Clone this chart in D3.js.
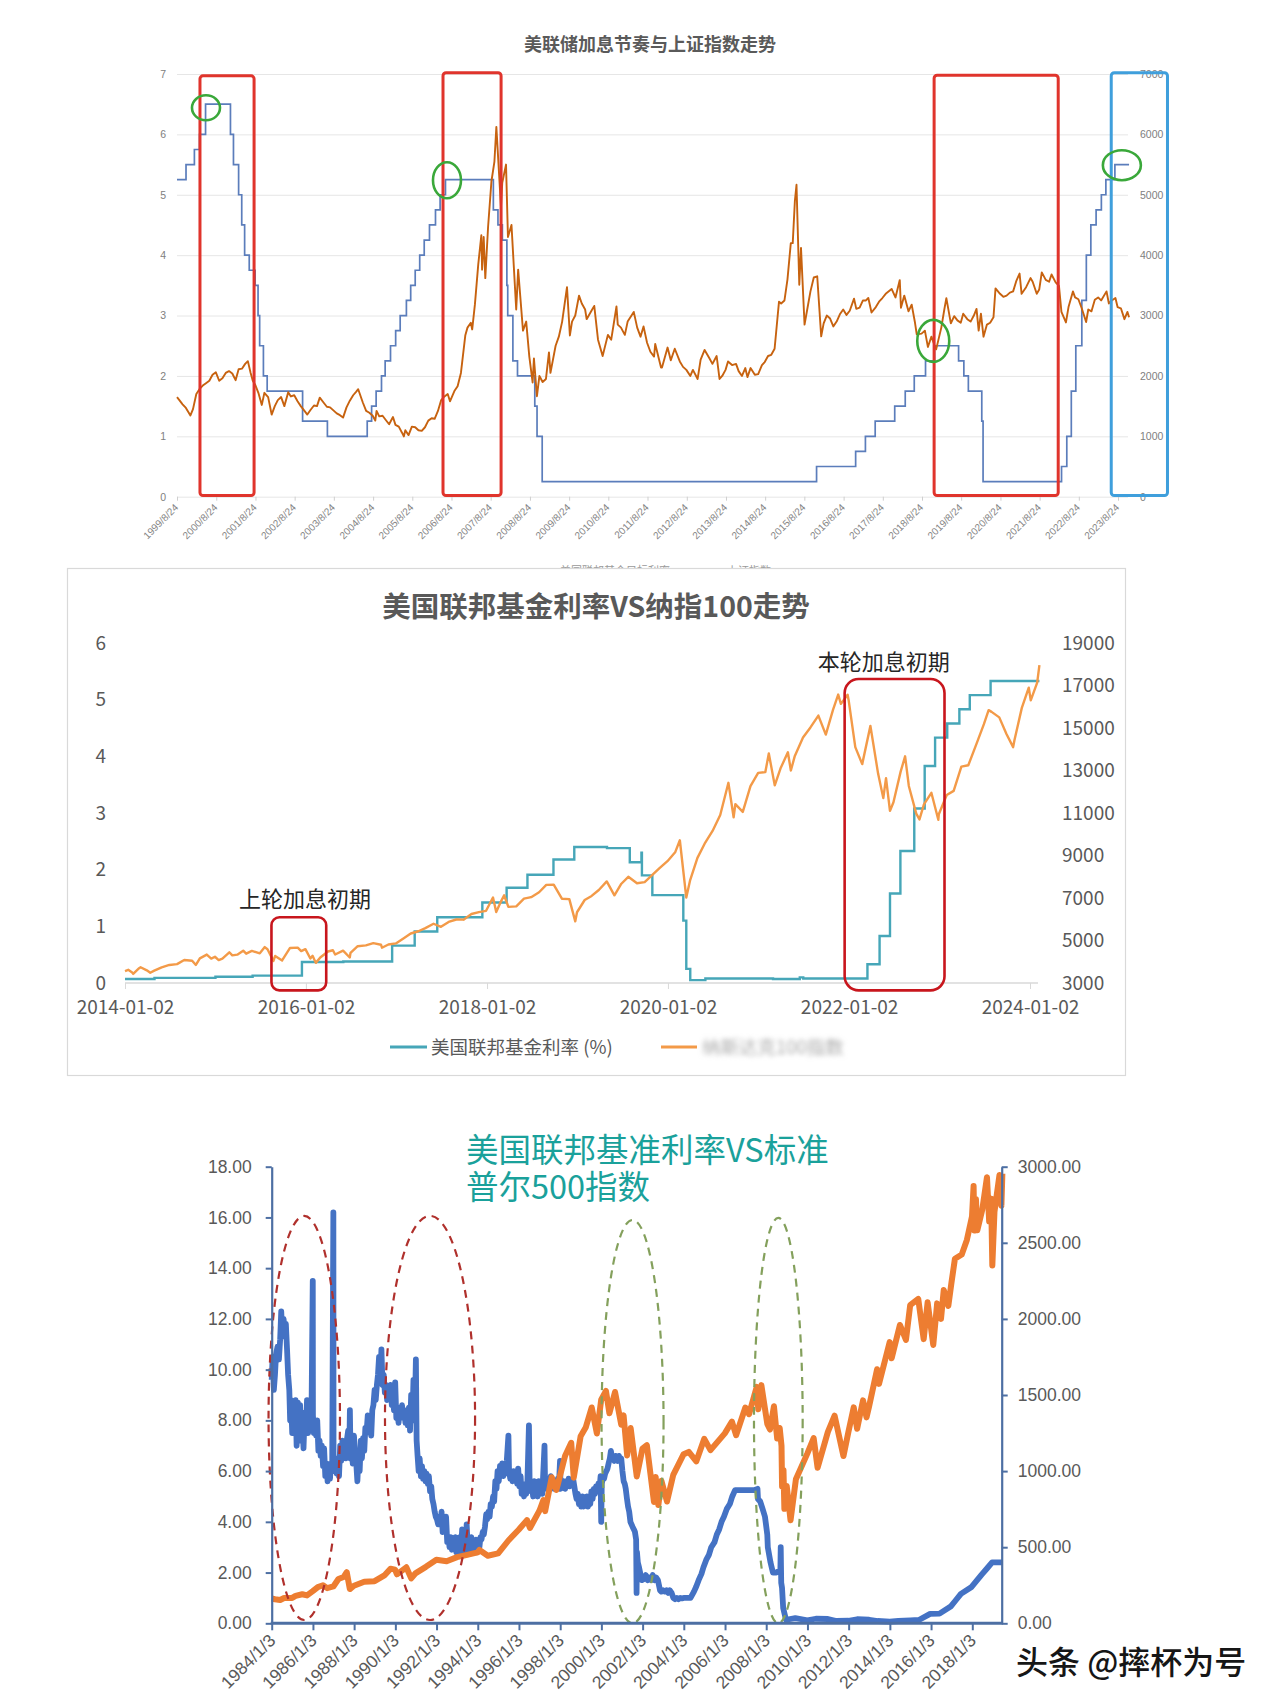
<!DOCTYPE html>
<html><head><meta charset="utf-8">
<script src="https://cdn.jsdelivr.net/npm/d3@7"></script>
<style>body{margin:0;background:#fff}svg{display:block}</style>
</head><body>
<svg id="c" width="1280" height="1706"></svg>
<script>
// ================= DATA =================
// Chart 1: Fed target rate (upper bound, %) and Shanghai Composite
const c1Title = "美联储加息节奏与上证指数走势";
const c1XTicks = ["1999/8/24","2000/8/24","2001/8/24","2002/8/24","2003/8/24","2004/8/24","2005/8/24","2006/8/24","2007/8/24","2008/8/24","2009/8/24","2010/8/24","2011/8/24","2012/8/24","2013/8/24","2014/8/24","2015/8/24","2016/8/24","2017/8/24","2018/8/24","2019/8/24","2020/8/24","2021/8/24","2022/8/24","2023/8/24"];
const c1YLeftTicks = [0,1,2,3,4,5,6,7];
const c1YRightTicks = [0,1000,2000,3000,4000,5000,6000,7000];
const c1Legend = ["美国联邦基金目标利率","上证指数"];
const c1Fed = [["1999-08-24",5.25],["1999-11-16",5.5],["2000-02-02",5.75],["2000-03-21",6.0],["2000-05-16",6.5],["2001-01-03",6.0],["2001-01-31",5.5],["2001-03-20",5.0],["2001-04-18",4.5],["2001-05-15",4.0],["2001-06-27",3.75],["2001-08-21",3.5],["2001-09-17",3.0],["2001-10-02",2.5],["2001-11-06",2.0],["2001-12-11",1.75],["2002-11-06",1.25],["2003-06-25",1.0],["2004-06-30",1.25],["2004-08-10",1.5],["2004-09-21",1.75],["2004-11-10",2.0],["2004-12-14",2.25],["2005-02-02",2.5],["2005-03-22",2.75],["2005-05-03",3.0],["2005-06-30",3.25],["2005-08-09",3.5],["2005-09-20",3.75],["2005-11-01",4.0],["2005-12-13",4.25],["2006-01-31",4.5],["2006-03-28",4.75],["2006-05-10",5.0],["2006-06-29",5.25],["2007-09-18",4.75],["2007-10-31",4.5],["2007-12-11",4.25],["2008-01-22",3.5],["2008-01-30",3.0],["2008-03-18",2.25],["2008-04-30",2.0],["2008-10-08",1.5],["2008-10-29",1.0],["2008-12-16",0.25],["2015-12-16",0.5],["2016-12-14",0.75],["2017-03-15",1.0],["2017-06-14",1.25],["2017-12-13",1.5],["2018-03-21",1.75],["2018-06-13",2.0],["2018-09-26",2.25],["2018-12-19",2.5],["2019-07-31",2.25],["2019-09-18",2.0],["2019-10-30",1.75],["2020-03-03",1.25],["2020-03-15",0.25],["2022-03-16",0.5],["2022-05-04",1.0],["2022-06-15",1.75],["2022-07-27",2.5],["2022-09-21",3.25],["2022-11-02",4.0],["2022-12-14",4.5],["2023-02-01",4.75],["2023-03-22",5.0],["2023-05-03",5.25],["2023-07-26",5.5],["2023-12-05",5.5]];
const c1Sse = [["1999-08-24",1650],["1999-09-15",1600],["1999-10-15",1530],["1999-11-15",1470],["1999-12-27",1345],["2000-01-20",1450],["2000-02-20",1700],["2000-03-20",1780],["2000-04-20",1840],["2000-05-20",1880],["2000-06-20",1920],["2000-07-20",2020],["2000-08-20",2060],["2000-09-20",1920],["2000-10-20",1960],["2000-11-20",2050],["2000-12-20",2080],["2001-01-20",2040],["2001-02-20",1930],["2001-03-20",2110],["2001-04-20",2120],["2001-05-20",2200],["2001-06-14",2245],["2001-07-10",2050],["2001-07-30",1920],["2001-08-20",1860],["2001-09-20",1720],["2001-10-22",1520],["2001-11-15",1720],["2001-12-20",1650],["2002-01-22",1360],["2002-02-20",1500],["2002-03-20",1600],["2002-04-20",1650],["2002-05-20",1500],["2002-06-25",1730],["2002-07-20",1660],["2002-08-20",1680],["2002-09-20",1580],["2002-10-20",1500],["2002-11-20",1430],["2002-12-20",1360],["2003-01-20",1440],["2003-02-20",1510],["2003-03-20",1500],["2003-04-15",1640],["2003-05-20",1560],["2003-06-20",1490],["2003-07-20",1480],["2003-08-20",1430],["2003-09-20",1380],["2003-10-20",1350],["2003-11-18",1310],["2003-12-20",1480],["2004-01-20",1590],["2004-02-20",1680],["2004-03-20",1740],["2004-04-07",1780],["2004-05-20",1560],["2004-06-20",1420],["2004-07-20",1390],["2004-08-20",1340],["2004-09-13",1260],["2004-09-25",1420],["2004-10-20",1330],["2004-11-20",1340],["2004-12-20",1270],["2005-01-20",1200],["2005-02-25",1320],["2005-03-20",1190],["2005-04-20",1160],["2005-05-20",1060],["2005-06-06",998],["2005-06-20",1100],["2005-07-20",1020],["2005-08-20",1160],["2005-09-20",1150],["2005-10-20",1100],["2005-11-20",1090],["2005-12-20",1150],["2006-01-20",1260],["2006-02-20",1300],["2006-03-20",1290],["2006-04-20",1420],["2006-05-20",1600],["2006-06-20",1660],["2006-07-20",1700],["2006-08-10",1580],["2006-09-20",1750],["2006-10-20",1830],["2006-11-20",2050],["2006-12-31",2675],["2007-01-20",2800],["2007-02-20",2880],["2007-03-05",2770],["2007-03-30",3180],["2007-04-30",3840],["2007-05-29",4330],["2007-06-05",3760],["2007-06-20",4300],["2007-07-05",3620],["2007-07-31",4470],["2007-08-31",5220],["2007-09-28",5550],["2007-10-16",6124],["2007-11-28",4800],["2007-12-10",5200],["2008-01-14",5500],["2008-02-01",4300],["2008-03-05",4500],["2008-04-18",3100],["2008-05-06",3760],["2008-06-20",2750],["2008-07-20",2900],["2008-08-18",2320],["2008-09-18",1890],["2008-09-30",2290],["2008-10-28",1664],["2008-11-20",2000],["2008-12-20",1900],["2009-01-20",1950],["2009-02-17",2390],["2009-03-03",2050],["2009-04-20",2500],["2009-05-20",2650],["2009-06-20",2900],["2009-08-04",3470],["2009-08-31",2670],["2009-09-20",2900],["2009-10-20",3000],["2009-11-24",3330],["2009-12-20",3200],["2010-01-20",3100],["2010-02-03",2940],["2010-03-20",3080],["2010-04-15",3160],["2010-05-20",2600],["2010-07-02",2330],["2010-08-20",2680],["2010-09-20",2600],["2010-11-08",3150],["2010-11-20",2850],["2010-12-20",2800],["2011-01-25",2680],["2011-02-20",2900],["2011-04-18",3060],["2011-05-20",2800],["2011-06-20",2650],["2011-07-18",2820],["2011-08-20",2550],["2011-09-20",2400],["2011-10-24",2320],["2011-11-04",2530],["2011-12-28",2140],["2012-01-06",2140],["2012-02-27",2470],["2012-03-28",2260],["2012-05-04",2450],["2012-06-20",2240],["2012-07-20",2150],["2012-08-20",2100],["2012-09-26",2000],["2012-10-20",2100],["2012-12-03",1950],["2012-12-31",2270],["2013-02-06",2430],["2013-03-20",2300],["2013-04-20",2200],["2013-05-29",2330],["2013-06-25",1950],["2013-07-20",2000],["2013-08-20",2100],["2013-09-12",2240],["2013-10-20",2180],["2013-11-26",2200],["2013-12-20",2080],["2014-01-20",2000],["2014-02-20",2130],["2014-03-12",1980],["2014-04-10",2130],["2014-05-20",2020],["2014-06-20",2030],["2014-07-25",2180],["2014-08-20",2230],["2014-09-20",2330],["2014-10-20",2350],["2014-11-20",2450],["2014-12-31",3230],["2015-01-20",3200],["2015-02-20",3250],["2015-03-20",3600],["2015-04-20",4200],["2015-05-08",4200],["2015-05-28",4900],["2015-06-12",5166],["2015-07-08",3510],["2015-07-24",4120],["2015-08-26",2850],["2015-09-20",3100],["2015-10-20",3400],["2015-11-20",3630],["2015-12-22",3650],["2016-01-28",2655],["2016-02-20",2870],["2016-03-20",3000],["2016-04-20",2950],["2016-05-20",2820],["2016-06-20",2900],["2016-07-20",3020],["2016-08-20",3100],["2016-09-20",3010],["2016-10-20",3080],["2016-11-29",3280],["2016-12-20",3110],["2017-01-20",3130],["2017-02-20",3250],["2017-03-20",3250],["2017-04-11",3290],["2017-05-11",3050],["2017-06-20",3140],["2017-07-20",3230],["2017-08-20",3290],["2017-09-20",3360],["2017-11-14",3440],["2017-12-20",3300],["2018-01-29",3587],["2018-02-09",3130],["2018-03-12",3330],["2018-04-20",3070],["2018-05-20",3180],["2018-06-20",2880],["2018-07-06",2690],["2018-08-20",2700],["2018-09-20",2750],["2018-10-18",2480],["2018-11-20",2650],["2018-12-20",2500],["2019-01-03",2440],["2019-02-20",2800],["2019-03-20",3100],["2019-04-08",3288],["2019-05-20",2870],["2019-06-20",2990],["2019-07-20",2920],["2019-08-20",2880],["2019-09-12",3030],["2019-10-20",2940],["2019-11-20",2900],["2019-12-20",3000],["2020-01-14",3110],["2020-02-03",2750],["2020-02-24",3030],["2020-03-19",2650],["2020-04-20",2850],["2020-05-20",2880],["2020-06-20",2970],["2020-07-09",3450],["2020-08-20",3360],["2020-09-20",3310],["2020-10-20",3330],["2020-11-20",3380],["2020-12-20",3400],["2021-01-20",3580],["2021-02-18",3696],["2021-03-09",3360],["2021-04-20",3470],["2021-05-31",3620],["2021-06-20",3560],["2021-07-28",3360],["2021-08-20",3430],["2021-09-13",3715],["2021-10-20",3590],["2021-11-20",3560],["2021-12-13",3680],["2022-01-20",3550],["2022-02-20",3490],["2022-03-15",3060],["2022-04-26",2886],["2022-05-20",3140],["2022-06-30",3400],["2022-07-20",3300],["2022-08-20",3270],["2022-09-20",3120],["2022-10-31",2893],["2022-11-20",3100],["2022-12-20",3070],["2023-01-20",3260],["2023-02-20",3300],["2023-03-20",3250],["2023-05-09",3400],["2023-05-31",3200],["2023-06-20",3240],["2023-07-31",3290],["2023-08-20",3140],["2023-09-20",3120],["2023-10-23",2940],["2023-11-20",3060],["2023-12-05",2970]];
const c1RedBoxes = [["2000-03-25","2001-08-11",0.02,6.97],["2006-06-06","2007-11-29",0.02,7.02],["2018-12-15","2022-02-13",0.02,6.98]];
const c1BlueBoxes = [["2023-06-22","2024-11-27",0.02,7.02]];
const c1Circles = [["2000-05-20",6.44],["2006-07-13",5.24],["2018-12-07",2.58],["2023-09-29",5.49]];

// Chart 2: Fed funds effective rate vs Nasdaq 100
const c2Title = "美国联邦基金利率VS纳指100走势";
const c2XTicks = ["2014-01-02","2016-01-02","2018-01-02","2020-01-02","2022-01-02","2024-01-02"];
const c2YLeftTicks = [0,1,2,3,4,5,6];
const c2YRightTicks = [3000,5000,7000,9000,11000,13000,15000,17000,19000];
const c2Legend = ["美国联邦基金利率 (%)","纳斯达克100指数"];
const c2Fed = [["2014-01-02",0.07],["2014-02-10",0.07],["2014-05-01",0.09],["2014-10-01",0.09],["2015-01-02",0.11],["2015-06-01",0.13],["2015-12-17",0.37],["2016-06-01",0.38],["2016-12-15",0.66],["2017-03-16",0.91],["2017-06-15",1.16],["2017-12-14",1.42],["2018-03-22",1.68],["2018-06-14",1.91],["2018-09-27",2.18],["2018-12-20",2.40],["2019-05-01",2.38],["2019-08-01",2.13],["2019-09-17",2.30],["2019-09-19",1.90],["2019-10-31",1.55],["2020-03-04",1.10],["2020-03-16",0.25],["2020-04-01",0.05],["2020-06-01",0.08],["2021-03-01",0.07],["2021-06-17",0.10],["2021-07-01",0.08],["2022-03-17",0.33],["2022-05-05",0.83],["2022-06-16",1.58],["2022-07-28",2.33],["2022-09-22",3.08],["2022-11-03",3.83],["2022-12-15",4.33],["2023-02-02",4.58],["2023-03-23",4.83],["2023-05-04",5.08],["2023-07-27",5.33],["2024-02-09",5.33]];
const c2Ndx = [["2014-01-02",3563],["2014-01-15",3620],["2014-01-31",3494],["2014-02-04",3430],["2014-02-28",3696],["2014-03-06",3740],["2014-03-31",3596],["2014-04-14",3480],["2014-04-30",3580],["2014-05-30",3736],["2014-06-30",3849],["2014-07-31",3889],["2014-08-29",4082],["2014-09-30",4049],["2014-10-15",3850],["2014-10-31",4158],["2014-11-28",4337],["2014-12-16",4150],["2014-12-31",4236],["2015-01-15",4080],["2015-01-30",4152],["2015-02-27",4446],["2015-03-11",4300],["2015-03-31",4334],["2015-04-24",4520],["2015-05-06",4380],["2015-05-29",4509],["2015-06-30",4397],["2015-07-20",4690],["2015-07-31",4588],["2015-08-24",4040],["2015-08-31",4274],["2015-09-28",4060],["2015-10-30",4648],["2015-11-30",4665],["2015-12-14",4500],["2015-12-31",4593],["2016-01-20",4150],["2016-01-29",4279],["2016-02-11",3947],["2016-02-29",4202],["2016-03-31",4484],["2016-04-20",4540],["2016-04-29",4341],["2016-05-31",4523],["2016-06-27",4200],["2016-06-30",4418],["2016-07-29",4731],["2016-08-31",4771],["2016-09-30",4875],["2016-10-31",4801],["2016-11-04",4660],["2016-11-30",4810],["2016-12-30",4864],["2017-01-31",5108],["2017-02-28",5330],["2017-03-31",5436],["2017-04-28",5584],["2017-05-31",5788],["2017-06-30",5646],["2017-07-31",5873],["2017-08-31",5988],["2017-09-29",5980],["2017-10-31",6248],["2017-11-30",6337],["2017-12-29",6397],["2018-01-26",7022],["2018-02-08",6339],["2018-02-28",6854],["2018-03-12",7130],["2018-03-29",6581],["2018-04-30",6606],["2018-05-31",6967],["2018-06-29",7040],["2018-07-31",7272],["2018-08-29",7620],["2018-09-28",7628],["2018-10-31",6967],["2018-11-30",6949],["2018-12-24",5899],["2018-12-31",6330],["2019-01-31",6906],["2019-02-28",7097],["2019-03-29",7378],["2019-04-30",7781],["2019-05-31",7127],["2019-06-28",7671],["2019-07-26",7998],["2019-08-30",7692],["2019-09-30",7750],["2019-10-31",8083],["2019-11-29",8403],["2019-12-31",8733],["2020-01-31",9150],["2020-02-19",9718],["2020-03-16",7020],["2020-03-31",7813],["2020-04-30",8890],["2020-05-29",9555],["2020-06-30",10157],["2020-07-31",10905],["2020-09-02",12420],["2020-09-23",10800],["2020-09-30",11418],["2020-10-30",11052],["2020-11-30",12268],["2020-12-31",12888],["2021-01-29",12925],["2021-02-12",13800],["2021-03-08",12300],["2021-03-31",13091],["2021-04-30",13860],["2021-05-12",13000],["2021-05-28",13686],["2021-06-30",14554],["2021-07-30",15027],["2021-08-31",15583],["2021-09-30",14689],["2021-10-29",15850],["2021-11-19",16573],["2021-11-30",16135],["2021-12-27",16567],["2021-12-31",16320],["2022-01-27",14100],["2022-02-24",13300],["2022-03-29",15100],["2022-04-29",12855],["2022-05-20",11700],["2022-05-31",12643],["2022-06-16",11100],["2022-06-30",11503],["2022-07-29",12947],["2022-08-16",13667],["2022-08-31",12272],["2022-09-30",10972],["2022-10-13",10700],["2022-10-31",11405],["2022-11-30",11951],["2022-12-28",10680],["2022-12-30",10940],["2023-01-31",11846],["2023-02-28",12042],["2023-03-31",13181],["2023-04-28",13246],["2023-05-31",14254],["2023-06-30",15180],["2023-07-19",15840],["2023-07-31",15758],["2023-08-31",15501],["2023-09-29",14715],["2023-10-26",14100],["2023-10-31",14410],["2023-11-30",15947],["2023-12-28",16900],["2024-01-05",16300],["2024-01-31",17137],["2024-02-09",17963]];
const c2Boxes = [["2015-08-16","2016-03-24",-0.13,1.16],["2021-12-15","2023-01-22",-0.13,5.365]];
const c2Notes = [["上轮加息初期","2015-12-29",1.48],["本轮加息初期","2022-05-22",5.66]];

// Chart 3: Fed funds rate vs S&P 500
const c3TitleLines = ["美国联邦基准利率VS标准","普尔500指数"];
const c3XTicks = ["1984/1/3","1986/1/3","1988/1/3","1990/1/3","1992/1/3","1994/1/3","1996/1/3","1998/1/3","2000/1/3","2002/1/3","2004/1/3","2006/1/3","2008/1/3","2010/1/3","2012/1/3","2014/1/3","2016/1/3","2018/1/3"];
const c3YLeftTicks = [0,2,4,6,8,10,12,14,16,18];
const c3YRightTicks = [0,500,1000,1500,2000,2500,3000];
const c3Fed = [["1984-01-03",9.6],["1984-01-20",10.5],["1984-02-10",9.2],["1984-03-01",9.8],["1984-03-20",10.6],["1984-04-15",10.9],["1984-05-10",10.4],["1984-06-01",11.2],["1984-06-20",12.3],["1984-07-10",11.3],["1984-08-01",12.0],["1984-08-20",11.5],["1984-09-10",11.8],["1984-10-01",10.8],["1984-10-20",9.8],["1984-11-10",9.2],["1984-11-25",8.0],["1984-12-10",8.8],["1985-01-01",7.5],["1985-01-20",8.5],["1985-02-10",8.2],["1985-03-01",8.8],["1985-03-20",7.0],["1985-04-10",8.7],["1985-05-01",7.6],["1985-05-20",8.6],["1985-06-10",7.2],["1985-07-01",7.8],["1985-07-20",6.9],["1985-08-10",8.3],["1985-09-01",7.6],["1985-09-20",8.8],["1985-10-10",7.5],["1985-11-01",8.1],["1985-11-20",7.6],["1985-12-10",8.6],["1985-12-31",13.5],["1986-01-03",8.2],["1986-01-20",7.5],["1986-02-10",8.0],["1986-03-01",7.4],["1986-03-20",8.0],["1986-04-10",6.8],["1986-05-01",7.2],["1986-05-20",6.6],["1986-06-10",7.0],["1986-07-01",6.2],["1986-07-20",6.9],["1986-08-10",5.8],["1986-09-01",6.3],["1986-09-20",5.6],["1986-10-10",6.2],["1986-11-01",5.7],["1986-11-20",6.3],["1986-12-10",6.0],["1986-12-31",16.2],["1987-01-03",6.5],["1987-01-20",6.0],["1987-02-10",6.5],["1987-03-01",5.9],["1987-03-20",6.4],["1987-04-10",5.8],["1987-05-01",7.0],["1987-05-20",6.4],["1987-06-10",7.2],["1987-07-01",6.5],["1987-07-20",6.9],["1987-08-10",6.5],["1987-09-01",7.3],["1987-09-20",7.6],["1987-10-10",6.8],["1987-10-20",8.4],["1987-11-01",6.5],["1987-11-20",7.0],["1987-12-10",6.3],["1987-12-31",7.4],["1988-01-20",6.7],["1988-02-10",6.3],["1988-03-01",5.6],["1988-03-20",6.6],["1988-04-10",6.0],["1988-05-01",7.2],["1988-05-20",6.5],["1988-06-10",7.3],["1988-07-01",6.8],["1988-07-20",7.7],["1988-08-10",7.5],["1988-09-01",8.2],["1988-09-20",7.9],["1988-10-10",8.1],["1988-11-01",7.4],["1988-11-20",8.4],["1988-12-10",8.6],["1988-12-31",9.2],["1989-01-20",8.8],["1989-02-10",9.4],["1989-03-01",9.8],["1989-03-20",10.5],["1989-04-10",9.6],["1989-05-01",10.8],["1989-05-20",9.4],["1989-06-10",9.8],["1989-07-01",9.1],["1989-07-20",9.4],["1989-08-10",8.8],["1989-09-01",9.3],["1989-09-20",8.9],["1989-10-10",9.4],["1989-11-01",8.6],["1989-11-20",8.9],["1989-12-10",8.4],["1989-12-31",9.5],["1990-01-20",8.1],["1990-02-10",8.3],["1990-03-01",7.9],["1990-03-20",8.5],["1990-04-10",8.1],["1990-05-01",8.6],["1990-05-20",8.1],["1990-06-10",8.4],["1990-07-01",7.9],["1990-07-20",8.3],["1990-08-10",7.8],["1990-09-01",8.5],["1990-09-20",7.6],["1990-10-10",9.0],["1990-11-01",8.0],["1990-11-20",9.6],["1990-12-15",8.4],["1991-01-02",10.4],["1991-01-15",7.2],["1991-02-01",6.6],["1991-02-20",6.0],["1991-03-10",6.5],["1991-04-01",5.8],["1991-04-20",6.2],["1991-05-10",5.7],["1991-06-01",6.0],["1991-06-20",5.6],["1991-07-10",5.9],["1991-08-01",5.5],["1991-08-20",5.8],["1991-09-10",5.2],["1991-10-01",5.4],["1991-10-20",4.9],["1991-11-10",4.7],["1991-12-01",4.4],["1991-12-20",4.2],["1992-01-10",4.1],["1992-02-01",3.9],["1992-02-20",4.2],["1992-03-10",3.9],["1992-04-01",4.4],["1992-04-20",3.6],["1992-05-10",3.9],["1992-06-01",3.6],["1992-06-20",4.2],["1992-07-10",3.2],["1992-08-01",3.4],["1992-08-20",3.0],["1992-09-10",3.4],["1992-10-01",2.9],["1992-10-20",3.2],["1992-11-10",3.0],["1992-12-01",3.4],["1992-12-20",2.8],["1993-01-10",3.1],["1993-02-01",2.9],["1993-02-20",3.4],["1993-03-10",2.8],["1993-04-01",3.7],["1993-04-20",2.9],["1993-05-10",3.2],["1993-06-01",2.8],["1993-06-20",3.9],["1993-07-10",3.0],["1993-08-01",3.2],["1993-08-20",2.9],["1993-09-10",3.4],["1993-10-01",2.8],["1993-10-20",3.1],["1993-11-10",2.9],["1993-12-01",3.3],["1993-12-20",2.8],["1994-01-10",3.1],["1994-02-01",3.0],["1994-02-20",3.4],["1994-03-10",3.3],["1994-04-01",3.6],["1994-04-20",3.5],["1994-05-10",3.8],["1994-06-01",4.3],["1994-06-20",4.1],["1994-07-10",4.4],["1994-08-01",4.2],["1994-08-20",4.7],["1994-09-10",4.6],["1994-10-01",5.0],["1994-10-20",4.8],["1994-11-10",5.6],["1994-12-01",5.3],["1994-12-20",6.0],["1995-01-10",5.6],["1995-02-01",6.2],["1995-02-20",5.9],["1995-03-10",6.3],["1995-04-01",5.8],["1995-04-20",6.2],["1995-05-10",5.9],["1995-06-01",6.4],["1995-06-30",7.4],["1995-07-10",6.1],["1995-08-01",5.7],["1995-08-20",6.0],["1995-09-10",5.6],["1995-10-01",6.0],["1995-10-20",5.7],["1995-11-10",5.9],["1995-12-01",5.5],["1995-12-20",6.1],["1996-01-10",5.4],["1996-02-01",5.8],["1996-02-20",5.1],["1996-03-10",5.5],["1996-04-01",5.0],["1996-04-20",5.4],["1996-05-10",5.1],["1996-06-01",5.6],["1996-06-28",7.8],["1996-07-10",5.5],["1996-08-01",5.2],["1996-08-20",5.5],["1996-09-10",5.0],["1996-10-01",5.6],["1996-10-20",5.1],["1996-11-10",5.4],["1996-12-01",5.0],["1996-12-20",5.6],["1997-01-10",5.2],["1997-02-01",5.5],["1997-02-20",5.1],["1997-03-31",7.0],["1997-04-10",5.4],["1997-05-01",5.7],["1997-05-20",5.3],["1997-06-10",5.6],["1997-07-01",5.5],["1997-07-20",5.8],["1997-08-10",5.4],["1997-09-01",5.6],["1997-09-20",5.3],["1997-10-10",5.6],["1997-11-01",5.3],["1997-11-20",5.7],["1997-12-10",5.4],["1997-12-31",6.4],["1998-01-10",5.3],["1998-02-01",5.6],["1998-02-20",5.4],["1998-03-10",5.6],["1998-04-01",5.3],["1998-04-20",5.6],["1998-05-10",5.4],["1998-06-01",5.7],["1998-06-20",5.4],["1998-07-10",5.6],["1998-08-01",5.5],["1998-08-20",5.7],["1998-09-10",5.4],["1998-10-01",5.1],["1998-10-20",4.9],["1998-11-10",5.1],["1998-12-01",4.7],["1998-12-20",5.0],["1999-01-10",4.6],["1999-02-01",5.0],["1999-02-20",4.6],["1999-03-10",4.9],["1999-04-01",4.7],["1999-04-20",5.0],["1999-05-10",4.6],["1999-06-01",5.0],["1999-06-20",4.7],["1999-07-10",5.2],["1999-08-01",4.9],["1999-08-20",5.3],["1999-09-10",5.1],["1999-10-01",5.4],["1999-10-20",5.2],["1999-11-10",5.5],["1999-12-01",5.3],["1999-12-20",5.8],["1999-12-31",4.0],["2000-01-10",5.5],["2000-02-01",5.8],["2000-02-20",5.7],["2000-03-10",5.9],["2000-04-01",6.0],["2000-04-20",6.1],["2000-05-10",6.3],["2000-06-01",6.5],["2000-06-20",6.8],["2000-07-10",6.5],["2000-08-01",6.6],["2000-08-20",6.4],["2000-09-10",6.6],["2000-10-01",6.5],["2000-10-20",6.4],["2000-11-10",6.6],["2000-12-01",6.4],["2000-12-20",6.5],["2001-01-10",6.0],["2001-02-01",5.6],["2001-02-20",5.5],["2001-03-10",5.3],["2001-04-01",4.9],["2001-04-20",4.6],["2001-05-10",4.4],["2001-06-01",4.0],["2001-06-20",3.9],["2001-07-10",3.8],["2001-08-01",3.7],["2001-08-20",3.6],["2001-09-10",3.3],["2001-09-18",1.2],["2001-09-25",2.8],["2001-10-10",2.4],["2001-11-01",2.2],["2001-11-20",2.0],["2001-12-10",1.8],["2001-12-20",1.7],["2002-02-01",1.75],["2002-03-01",1.9],["2002-04-01",1.7],["2002-05-01",1.8],["2002-06-01",1.7],["2002-07-01",1.9],["2002-08-01",1.7],["2002-09-01",1.8],["2002-10-01",1.7],["2002-11-08",1.3],["2002-12-01",1.25],["2003-01-01",1.3],["2003-02-01",1.25],["2003-03-01",1.3],["2003-04-01",1.2],["2003-05-01",1.3],["2003-06-01",1.2],["2003-07-01",1.0],["2003-08-01",0.95],["2003-09-01",1.0],["2003-10-01",0.95],["2003-11-01",1.0],["2003-12-01",0.98],["2004-01-01",1.0],["2004-03-01",1.0],["2004-05-01",1.0],["2004-07-01",1.25],["2004-08-11",1.45],["2004-09-22",1.7],["2004-11-11",1.95],["2004-12-15",2.2],["2005-02-03",2.5],["2005-03-23",2.7],["2005-05-04",3.0],["2005-07-01",3.2],["2005-08-10",3.5],["2005-09-21",3.7],["2005-11-02",4.0],["2005-12-14",4.2],["2006-02-01",4.5],["2006-03-29",4.7],["2006-05-11",5.0],["2006-06-30",5.25],["2006-09-01",5.25],["2006-12-01",5.25],["2007-03-01",5.25],["2007-06-01",5.25],["2007-08-01",5.3],["2007-08-10",4.9],["2007-09-19",4.8],["2007-11-01",4.5],["2007-12-12",4.2],["2008-01-22",3.5],["2008-01-31",3.0],["2008-03-19",2.4],["2008-05-01",2.0],["2008-07-01",2.0],["2008-09-10",2.1],["2008-09-16",3.0],["2008-09-25",1.6],["2008-10-09",1.4],["2008-10-30",0.6],["2008-12-17",0.15],["2009-01-15",0.15],["2009-06-01",0.2],["2010-01-01",0.12],["2010-06-01",0.18],["2011-01-01",0.17],["2011-06-01",0.09],["2012-01-01",0.1],["2012-06-01",0.16],["2013-01-01",0.14],["2013-06-01",0.09],["2014-01-01",0.07],["2014-06-01",0.09],["2015-01-01",0.11],["2015-06-01",0.13],["2015-12-17",0.37],["2016-06-01",0.38],["2016-12-15",0.66],["2017-03-16",0.91],["2017-06-15",1.16],["2017-12-14",1.42],["2018-03-22",1.68],["2018-06-14",1.91],["2018-09-27",2.18],["2018-12-20",2.40],["2019-06-20",2.40]];
const c3Spx = [["1984-01-03",163],["1984-03-01",158],["1984-06-01",153],["1984-08-10",166],["1984-12-31",167],["1985-03-01",180],["1985-06-28",191],["1985-09-20",183],["1985-12-31",211],["1986-03-31",238],["1986-06-30",250],["1986-09-12",231],["1986-12-31",242],["1987-03-31",291],["1987-06-30",304],["1987-08-25",336],["1987-10-19",225],["1987-12-31",247],["1988-06-30",273],["1988-12-30",277],["1989-06-30",317],["1989-10-09",359],["1989-12-29",353],["1990-01-30",322],["1990-07-16",368],["1990-10-11",295],["1990-12-31",330],["1991-06-28",371],["1991-12-31",417],["1992-06-30",408],["1992-12-31",435],["1993-06-30",450],["1993-12-31",466],["1994-02-02",482],["1994-06-30",444],["1994-12-30",459],["1995-06-30",544],["1995-12-29",615],["1996-05-24",678],["1996-07-16",626],["1996-12-31",740],["1997-03-11",810],["1997-04-11",737],["1997-08-06",960],["1997-10-27",876],["1997-12-31",970],["1998-03-31",1101],["1998-07-17",1186],["1998-08-31",957],["1998-12-31",1229],["1999-03-31",1286],["1999-07-16",1418],["1999-10-15",1247],["1999-12-31",1469],["2000-03-24",1527],["2000-05-24",1380],["2000-09-01",1520],["2000-12-20",1305],["2001-01-31",1366],["2001-04-04",1103],["2001-06-05",1283],["2001-09-21",965],["2001-12-31",1148],["2002-03-19",1170],["2002-07-23",797],["2002-08-22",962],["2002-10-09",777],["2002-12-02",936],["2003-03-11",800],["2003-06-30",975],["2003-12-31",1111],["2004-03-31",1126],["2004-08-12",1064],["2004-12-31",1212],["2005-04-20",1138],["2005-12-30",1248],["2006-05-05",1325],["2006-07-18",1236],["2006-12-29",1418],["2007-03-05",1374],["2007-07-19",1553],["2007-08-15",1406],["2007-10-09",1565],["2008-01-22",1310],["2008-03-10",1273],["2008-05-19",1426],["2008-07-15",1214],["2008-08-29",1283],["2008-09-30",1166],["2008-10-10",899],["2008-11-04",1006],["2008-11-20",752],["2008-12-31",903],["2009-03-09",677],["2009-06-12",946],["2009-12-31",1115],["2010-04-23",1217],["2010-07-02",1022],["2010-12-31",1258],["2011-04-29",1364],["2011-10-03",1099],["2011-12-30",1258],["2012-04-02",1419],["2012-06-01",1278],["2012-09-14",1465],["2012-11-15",1353],["2012-12-31",1426],["2013-05-21",1669],["2013-06-24",1573],["2013-12-31",1848],["2014-02-03",1741],["2014-06-30",1960],["2014-10-15",1862],["2014-12-29",2090],["2015-05-21",2131],["2015-08-25",1867],["2015-11-03",2109],["2016-02-11",1829],["2016-04-20",2102],["2016-06-27",2000],["2016-08-15",2190],["2016-11-04",2085],["2016-12-30",2239],["2017-03-01",2395],["2017-06-30",2423],["2017-09-29",2519],["2017-12-29",2674],["2018-01-26",2873],["2018-02-08",2581],["2018-03-09",2786],["2018-04-02",2582],["2018-06-29",2718],["2018-09-20",2931],["2018-10-29",2641],["2018-12-03",2790],["2018-12-24",2351],["2019-01-31",2704],["2019-04-30",2946],["2019-06-03",2744],["2019-06-20",2954]];
const c3RedEllipses = [["1983-11-08","1987-04-27",0.13,16.06],["1989-07-03","1993-11-16",0.13,16.06]];
const c3GreenEllipses = [["2000-01-06","2003-01-09",0,15.9],["2007-05-31","2009-10-10",0,15.98]];
const watermark = "头条 @摔杯为号";

// ================= DRAW =================
const FONT = '"Noto Sans CJK SC","Noto Sans",sans-serif';
const NUMFONT = '"Liberation Sans","Noto Sans",sans-serif';
const parse = d3.timeParse("%Y-%m-%d");
const parseSlash = d3.timeParse("%Y/%m/%d");
const intFmt = d3.format("d");
const svg = d3.select("#c");
const defs = svg.append("defs");
defs.append("filter").attr("id","blur").append("feGaussianBlur").attr("stdDeviation",2.6);

// ---------- Chart 1 ----------
const x1 = d3.scaleTime().domain([parseSlash(c1XTicks[0]), parseSlash(c1XTicks[c1XTicks.length-1])]).range([177,1118]);
const y1L = d3.scaleLinear().domain([0,7]).range([496.7,74]);
const y1R = d3.scaleLinear().domain([0,7000]).range([496.7,74]);
const c1Right = 1128;
const g1 = svg.append("g");

g1.append("text").attr("x",650).attr("y",51).attr("text-anchor","middle")
  .attr("font-family",FONT).attr("font-size",18).attr("font-weight","bold").attr("fill","#5a5a5a").text(c1Title);

g1.append("g").attr("transform","translate(177,0)")
  .call(d3.axisLeft(y1L).tickValues(c1YLeftTicks).tickSize(-(c1Right-177)).tickFormat(""))
  .call(g=>g.select(".domain").remove())
  .call(g=>g.selectAll("line").attr("stroke","#e6e6e6"));

g1.append("g").attr("transform","translate(177,0)")
  .call(d3.axisLeft(y1L).tickValues(c1YLeftTicks).tickFormat(intFmt).tickSize(0).tickPadding(11))
  .call(g=>g.select(".domain").remove())
  .attr("font-family",NUMFONT).attr("font-size",10.5).attr("color","#808080");

g1.append("g").attr("transform",`translate(${c1Right},0)`)
  .call(d3.axisRight(y1R).tickValues(c1YRightTicks).tickFormat(intFmt).tickSize(0).tickPadding(12))
  .call(g=>g.select(".domain").remove())
  .attr("font-family",NUMFONT).attr("font-size",10.5).attr("color","#808080");

g1.append("g").attr("transform",`translate(0,${y1L(0)})`)
  .call(d3.axisBottom(x1).tickValues(c1XTicks.map(parseSlash)).tickFormat((d,i)=>c1XTicks[i]).tickSize(4).tickSizeOuter(0))
  .call(g=>g.select(".domain").remove())
  .attr("font-family",NUMFONT).attr("font-size",10).attr("color","#858585")
  .call(g=>g.selectAll("line").attr("stroke","#cfcfcf"))
  .call(g=>g.selectAll("text").attr("text-anchor","end").attr("x",0).attr("y",0).attr("dy","0.35em")
     .attr("transform","translate(-1,9) rotate(-45)"));

// partial legend (cut off by chart 2 panel)
g1.selectAll(".lg1").data(c1Legend).join("text")
  .attr("x",(d,i)=>[560,727][i]).attr("y",575)
  .attr("font-family",FONT).attr("font-size",11).attr("fill","#9a9a9a").text(d=>d);

const line1F = d3.line().x(d=>x1(parse(d[0]))).y(d=>y1L(d[1])).curve(d3.curveStepAfter);
const line1S = d3.line().x(d=>x1(parse(d[0]))).y(d=>y1R(d[1]));
g1.append("path").datum(c1Fed).attr("d",line1F).attr("fill","none").attr("stroke","#5b7dbb").attr("stroke-width",1.7);
g1.append("path").datum(c1Sse).attr("d",line1S).attr("fill","none").attr("stroke","#c7620f").attr("stroke-width",1.9).attr("stroke-linejoin","round");

g1.selectAll(".rb1").data(c1RedBoxes).join("rect")
  .attr("x",d=>x1(parse(d[0]))).attr("y",d=>y1L(d[3]))
  .attr("width",d=>x1(parse(d[1]))-x1(parse(d[0]))).attr("height",d=>y1L(d[2])-y1L(d[3]))
  .attr("rx",3).attr("fill","none").attr("stroke","#e0342c").attr("stroke-width",3);
g1.selectAll(".bb1").data(c1BlueBoxes).join("rect")
  .attr("x",d=>x1(parse(d[0]))).attr("y",d=>y1L(d[3]))
  .attr("width",d=>x1(parse(d[1]))-x1(parse(d[0]))).attr("height",d=>y1L(d[2])-y1L(d[3]))
  .attr("rx",3).attr("fill","none").attr("stroke","#3f9fdc").attr("stroke-width",3);
const c1CircleR = [[14,12.5],[14,18],[16,21],[19,15]];
g1.selectAll(".ci1").data(c1Circles).join("ellipse")
  .attr("cx",d=>x1(parse(d[0]))).attr("cy",d=>y1L(d[1]))
  .attr("rx",(d,i)=>c1CircleR[i][0]).attr("ry",(d,i)=>c1CircleR[i][1])
  .attr("fill","none").attr("stroke","#3aa83a").attr("stroke-width",2.6);

// ---------- Chart 2 ----------
const g2 = svg.append("g");
g2.append("rect").attr("x",67.5).attr("y",568.5).attr("width",1058).attr("height",507)
  .attr("fill","#fff").attr("stroke","#d9d9d9").attr("stroke-width",1.2);
const x2 = d3.scaleTime().domain([parse(c2XTicks[0]), parse(c2XTicks[c2XTicks.length-1])]).range([125,1030]);
const y2L = d3.scaleLinear().domain([0,6]).range([983,643]);
const y2R = d3.scaleLinear().domain([3000,19000]).range([983,643]);
const c2Right = 1038;

g2.append("text").attr("x",596).attr("y",617).attr("text-anchor","middle")
  .attr("font-family",FONT).attr("font-size",28.5).attr("font-weight","bold").attr("fill","#595959").text(c2Title);

g2.append("g").attr("transform","translate(125,0)")
  .call(d3.axisLeft(y2L).tickValues(c2YLeftTicks).tickFormat(intFmt).tickSize(0).tickPadding(19))
  .call(g=>g.select(".domain").remove())
  .attr("font-family",FONT).attr("font-size",19).attr("color","#595959");
g2.append("g").attr("transform",`translate(${c2Right},0)`)
  .call(d3.axisRight(y2R).tickValues(c2YRightTicks).tickFormat(intFmt).tickSize(0).tickPadding(24))
  .call(g=>g.select(".domain").remove())
  .attr("font-family",FONT).attr("font-size",19).attr("color","#595959");
g2.append("line").attr("x1",x2.range()[0]).attr("x2",c2Right).attr("y1",y2L(0)).attr("y2",y2L(0))
  .attr("stroke","#d9d9d9").attr("stroke-width",1.5);
g2.append("g").attr("transform",`translate(0,${y2L(0)})`)
  .call(d3.axisBottom(x2).tickValues(c2XTicks.map(parse)).tickFormat((d,i)=>c2XTicks[i]).tickSize(6).tickPadding(12).tickSizeOuter(0))
  .call(g=>g.select(".domain").remove())
  .attr("font-family",FONT).attr("font-size",19).attr("color","#595959")
  .call(g=>g.selectAll("line").attr("stroke","#d9d9d9"));

const line2F = d3.line().x(d=>x2(parse(d[0]))).y(d=>y2L(d[1])).curve(d3.curveStepAfter);
const line2N = d3.line().x(d=>x2(parse(d[0]))).y(d=>y2R(d[1]));
g2.append("path").datum(c2Fed).attr("d",line2F).attr("fill","none").attr("stroke","#46a6b8").attr("stroke-width",2.4);
g2.append("path").datum(c2Ndx).attr("d",line2N).attr("fill","none").attr("stroke","#f39a48").attr("stroke-width",2.4).attr("stroke-linejoin","round");

g2.selectAll(".rb2").data(c2Boxes).join("rect")
  .attr("x",d=>x2(parse(d[0]))).attr("y",d=>y2L(d[3]))
  .attr("width",d=>x2(parse(d[1]))-x2(parse(d[0]))).attr("height",d=>y2L(d[2])-y2L(d[3]))
  .attr("rx",(d,i)=>[8,14][i]).attr("fill","none").attr("stroke","#c8161d").attr("stroke-width",2.6);
g2.selectAll(".nt2").data(c2Notes).join("text")
  .attr("x",d=>x2(parse(d[1]))).attr("y",d=>y2L(d[2])).attr("dy","0.36em").attr("text-anchor","middle")
  .attr("font-family",FONT).attr("font-size",22).attr("fill","#262626").text(d=>d[0]);

// legend
g2.append("line").attr("x1",390).attr("x2",427).attr("y1",1047).attr("y2",1047).attr("stroke","#46a6b8").attr("stroke-width",3);
g2.append("text").attr("x",431).attr("y",1047).attr("dy","0.36em").attr("font-family",FONT).attr("font-size",18.5).attr("fill","#595959").text(c2Legend[0]);
g2.append("line").attr("x1",661).attr("x2",697).attr("y1",1047).attr("y2",1047).attr("stroke","#f39a48").attr("stroke-width",3);
g2.append("text").attr("x",702).attr("y",1047).attr("dy","0.36em").attr("font-family",FONT).attr("font-size",18.5).attr("fill","#aaa").attr("filter","url(#blur)").text(c2Legend[1]);

// ---------- Chart 3 ----------
const g3 = svg.append("g");
const x3 = d3.scaleTime().domain([parseSlash(c3XTicks[0]), parseSlash(c3XTicks[c3XTicks.length-1])]).range([271.7,972.3]);
const y3L = d3.scaleLinear().domain([0,18]).range([1623.3,1166.7]);
const y3R = d3.scaleLinear().domain([0,3000]).range([1623.3,1166.7]);
const c3Right = 1001.7;
const AX = "#4d6fa3";

const t3 = g3.append("text").attr("font-family",FONT).attr("font-size",32.5).attr("fill","#1aa19b");
t3.selectAll("tspan").data(c3TitleLines).join("tspan")
  .attr("x",466).attr("y",(d,i)=>1162+i*37).text(d=>d);

const line3F = d3.line().x(d=>x3(parse(d[0]))).y(d=>y3L(d[1]));
const line3S = d3.line().x(d=>x3(parse(d[0]))).y(d=>y3R(d[1]));
g3.append("path").datum(c3Fed).attr("d",line3F).attr("fill","none").attr("stroke","#4472c4").attr("stroke-width",5.8).attr("stroke-linejoin","round");
g3.append("path").datum(c3Spx).attr("d",line3S).attr("fill","none").attr("stroke","#ed7d31").attr("stroke-width",6).attr("stroke-linejoin","round");

function ell(sel, data, color){
  sel.selectAll(null).data(data).join("ellipse")
    .attr("cx",d=>(x3(parse(d[0]))+x3(parse(d[1])))/2)
    .attr("cy",d=>(y3L(d[2])+y3L(d[3]))/2)
    .attr("rx",d=>(x3(parse(d[1]))-x3(parse(d[0])))/2)
    .attr("ry",d=>(y3L(d[2])-y3L(d[3]))/2)
    .attr("fill","none").attr("stroke",color).attr("stroke-width",2.2).attr("stroke-dasharray","8,6");
}
ell(g3, c3RedEllipses, "#b0302c");
ell(g3, c3GreenEllipses, "#84a05c");

g3.append("g").attr("transform","translate(271.7,0)")
  .call(d3.axisLeft(y3L).tickValues(c3YLeftTicks).tickFormat(d3.format(".2f")).tickSize(6).tickPadding(14).tickSizeOuter(0))
  .attr("font-family",NUMFONT).attr("font-size",17.5).attr("color","#595959")
  .call(g=>g.select(".domain").attr("stroke",AX).attr("stroke-width",2.2))
  .call(g=>g.selectAll("line").attr("stroke",AX).attr("stroke-width",2));
g3.append("g").attr("transform",`translate(${c3Right},0)`)
  .call(d3.axisRight(y3R).tickValues(c3YRightTicks).tickFormat(d3.format(".2f")).tickSize(6).tickPadding(10).tickSizeOuter(0))
  .attr("font-family",NUMFONT).attr("font-size",17.5).attr("color","#595959")
  .call(g=>g.select(".domain").attr("stroke",AX).attr("stroke-width",2.2))
  .call(g=>g.selectAll("line").attr("stroke",AX).attr("stroke-width",2));
g3.append("line").attr("x1",x3.range()[0]-1).attr("x2",c3Right+1).attr("y1",y3L(0)).attr("y2",y3L(0))
  .attr("stroke",AX).attr("stroke-width",3);
g3.append("g").attr("transform",`translate(0,${y3L(0)})`)
  .call(d3.axisBottom(x3).tickValues(c3XTicks.map(parseSlash)).tickFormat((d,i)=>c3XTicks[i]).tickSize(7).tickSizeOuter(0))
  .call(g=>g.select(".domain").remove())
  .attr("font-family",NUMFONT).attr("font-size",17.5).attr("color","#595959")
  .call(g=>g.selectAll("line").attr("stroke",AX).attr("stroke-width",2))
  .call(g=>g.selectAll("text").attr("text-anchor","end").attr("x",0).attr("y",0).attr("dy","0.35em")
     .attr("transform","translate(0,14) rotate(-45)"));

svg.append("text").attr("x",1016).attr("y",1674)
  .attr("font-family",FONT).attr("font-size",32).attr("font-weight",500).attr("fill","#161616")
  .attr("stroke","#fff").attr("stroke-width",3).attr("paint-order","stroke").text(watermark);
</script>
</body></html>
